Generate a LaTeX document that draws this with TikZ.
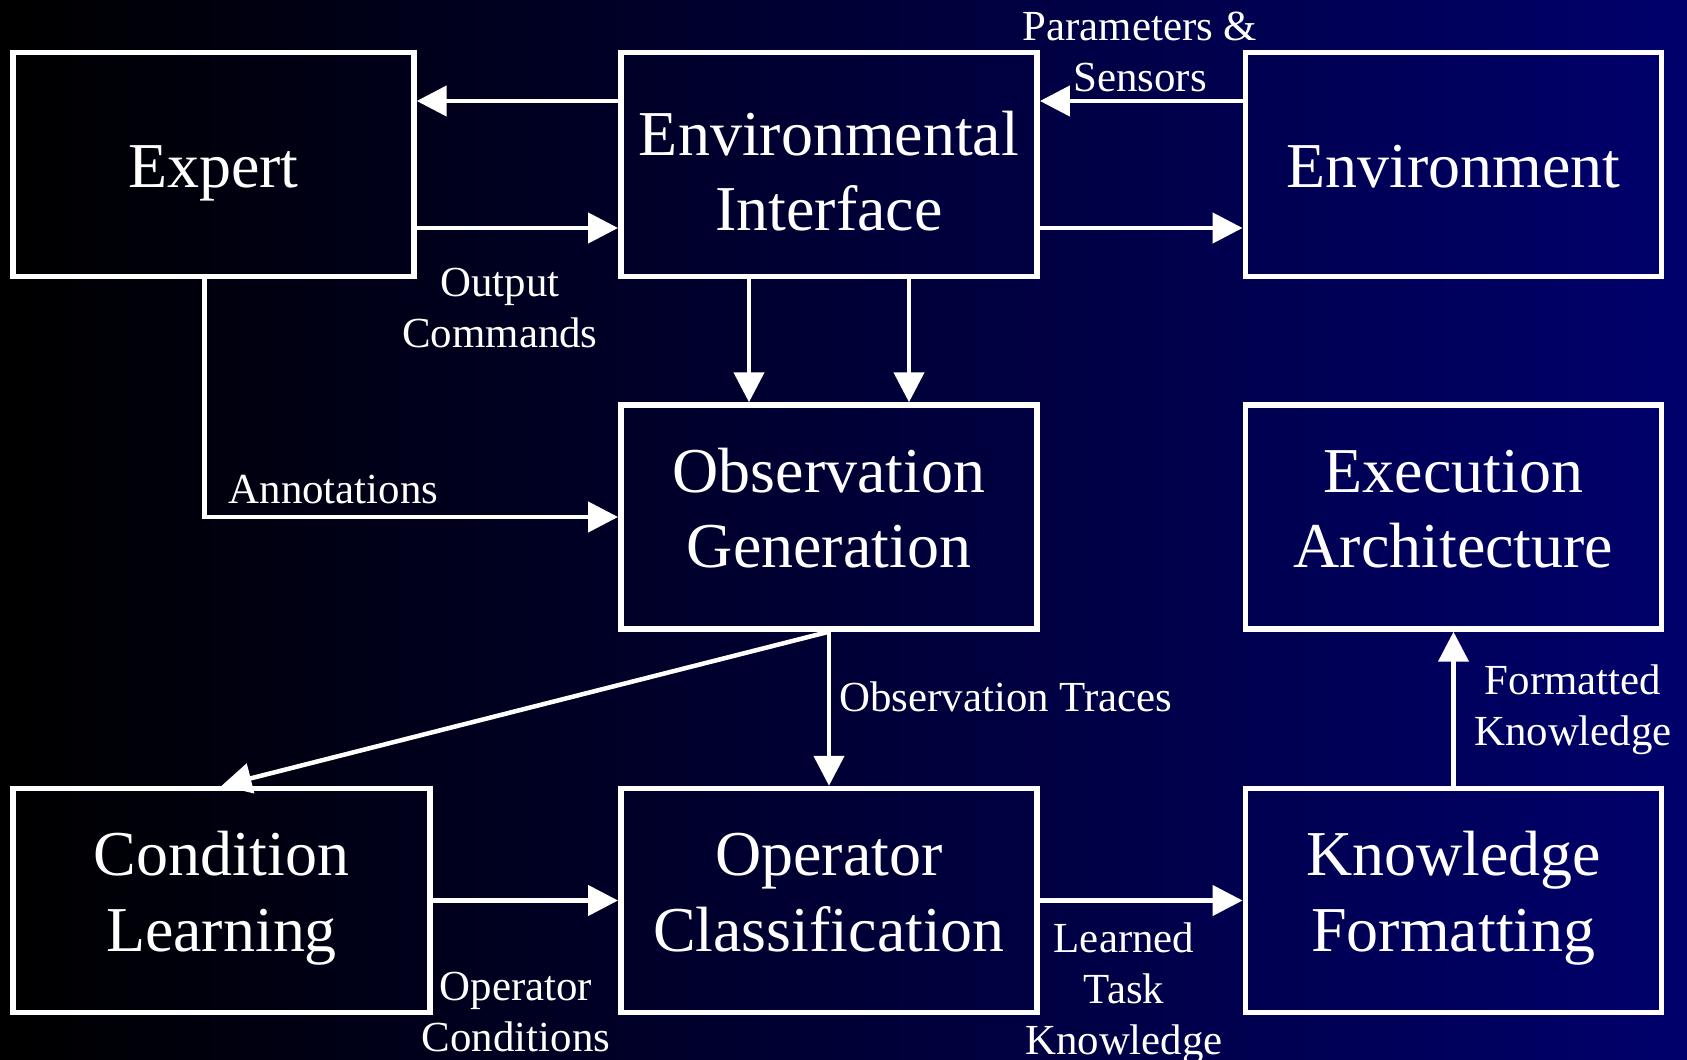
\documentclass[tikz,border=0pt]{standalone}
\usepackage{fontspec}
\setmainfont{Liberation Serif}
\usetikzlibrary{arrows.meta}
\definecolor{bgnavy}{RGB}{0,0,108}

\begin{document}
\begin{tikzpicture}[
  x=0.02cm, y=-0.02cm,
  every node/.style={inner sep=1pt},
  box/.style={draw=white, line width=0.11cm, inner sep=0pt, text=white, align=center,
    minimum width=8.33cm, minimum height=4.48cm, text height=85pt, text depth=27.4pt,
    font=\fontsize{36.4}{42.8}\selectfont},
  lbl/.style={text=white, align=center, inner sep=0pt,
    font=\fontsize{24.4}{29}\selectfont},
  arrow/.style={draw=white, line width=0.09cm, -{Triangle[length=0.6cm, width=0.6cm]}},
  line/.style={draw=white, line width=0.09cm}]

  % --- background, black at the left into navy at the right ---
  \useasboundingbox (0,0) rectangle (1687,1060);
  \shade[left color=black, right color=bgnavy] (0,0) rectangle (1687,1060);

  % --- top row ---
  \node[box, minimum width=8.02cm, text height=30pt, text depth=3.4pt] (expert) at (213.5,164.5) {Expert};
  \node[box, text height=95pt, text depth=19.5pt] (iface) at (829,164.5) {Environmental\\Interface};
  \node[box, text height=30pt, text depth=3.4pt] (env) at (1453.5,164.5) {Environment};

  % --- middle row ---
  \node[box] (obsgen) at (829,517) {Observation\\Generation};
  \node[box] (execarch) at (1453.5,517) {Execution\\Architecture};

  % --- bottom row ---
  \node[box, minimum width=8.35cm] (condlearn) at (221.5,900.5) {Condition\\Learning};
  \node[box] (opclass) at (829,900.5) {Operator\\Classification};
  \node[box] (knowfmt) at (1453.5,900.5) {Knowledge\\Formatting};

  % --- labels on the connectors ---
  \node[lbl] (outcmd) at (500,308) {Output\\Commands};
  \node[lbl] (params) at (1140,52) {Parameters \&\\Sensors};
  \node[lbl] (annot) at (333.5,489.5) {Annotations};
  \node[lbl, anchor=west] (traces) at (839,697) {Observation Traces};
  \node[lbl] (opcond) at (516,1012) {Operator\\Conditions};
  \node[lbl] (learned) at (1124,993) {Learned\\Task\\Knowledge};
  \node[lbl] (fmtknow) at (1573,710) {Formatted\\Knowledge};

  % --- connectors ---
  \draw[arrow] (iface.west |- 0,101) -- (expert.east |- 0,101);
  \draw[arrow] (expert.east |- 0,228) -- (iface.west |- 0,228);
  \draw[arrow] (env.west |- 0,101) -- (iface.east |- 0,101);
  \draw[arrow] (iface.east |- 0,228) -- (env.west |- 0,228);
  \draw[arrow] (iface.south -| 749,0) -- (obsgen.north -| 749,0);
  \draw[arrow] (iface.south -| 909,0) -- (obsgen.north -| 909,0);
  \draw[arrow] (expert.south -| 204.4,0) |- (obsgen.west);
  \draw[arrow] (obsgen.south) -- (condlearn.north);
  \draw[arrow] (obsgen.south) -- (opclass.north);
  \draw[arrow] (condlearn.east) -- (opclass.west);
  \draw[arrow] (opclass.east) -- (knowfmt.west);
  \draw[arrow] (knowfmt.north) -- (execarch.south);

\end{tikzpicture}
\end{document}
